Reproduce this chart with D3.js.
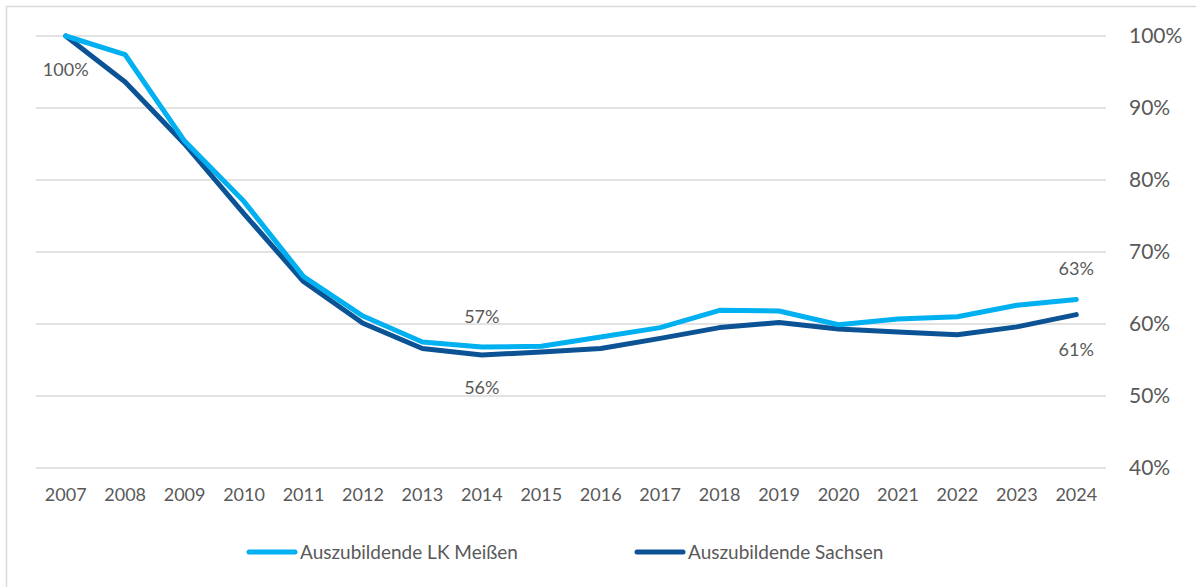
<!DOCTYPE html>
<html>
<head>
<meta charset="utf-8">
<script src="https://cdn.jsdelivr.net/npm/d3@7"></script>
<style>
  body { margin: 0; background: #fff; }
  svg text { font-family: Lato, "Open Sans", sans-serif; fill: #595959; }
</style>
</head>
<body>
<svg id="chart"></svg>
<script>
// data
var years = ["2007","2008","2009","2010","2011","2012","2013","2014","2015","2016",
             "2017","2018","2019","2020","2021","2022","2023","2024"];
var meissen = [100, 97.4, 85.4, 77.0, 66.6, 61.1, 57.5, 56.8, 56.9, 58.2,
               59.5, 61.9, 61.8, 59.9, 60.7, 61.0, 62.6, 63.4];
var sachsen = [100, 93.6, 85.0, 75.3, 65.9, 60.1, 56.6, 55.7, 56.1, 56.6,
               58.0, 59.5, 60.2, 59.3, 58.9, 58.5, 59.6, 61.3];
var yTicks = [40, 50, 60, 70, 80, 90, 100];
var seriesNames = ["Auszubildende LK Meißen", "Auszubildende Sachsen"];
var colors = ["#00b0f0", "#0b5394"];

// labelled points: [series index, year index, text, dy]
var pointLabels = [
  [1, 0, "100%", 34],
  [0, 7, "57%", -30],
  [1, 7, "56%", 33],
  [0, 17, "63%", -31],
  [1, 17, "61%", 35]
];

var W = 1196, H = 587;
var margin = {top: 36, right: 90, bottom: 119, left: 36},
    width = W - margin.left - margin.right,
    height = H - margin.top - margin.bottom;

var svg = d3.select("#chart")
    .attr("width", W)
    .attr("height", H);

// outer border
svg.append("rect")
    .attr("x", 6.5).attr("y", 6.5)
    .attr("width", W).attr("height", H - 4)
    .attr("fill", "none")
    .attr("stroke", "#d9d9d9")
    .attr("stroke-width", 1.5);

var chart = svg.append("g")
    .attr("transform", "translate(" + margin.left + "," + margin.top + ")");

var x = d3.scaleBand()
    .domain(years)
    .range([0, width]);

var y = d3.scaleLinear()
    .domain([40, 100])
    .range([height, 0]);

// gridlines
chart.selectAll(".grid")
    .data(yTicks)
  .enter().append("line")
    .attr("x1", 0).attr("x2", width)
    .attr("y1", function(d) { return y(d); })
    .attr("y2", function(d) { return y(d); })
    .attr("stroke", "#d9d9d9")
    .attr("stroke-width", 1.5);

// right axis
var yAxis = chart.append("g")
    .attr("transform", "translate(" + width + ",0)")
    .call(d3.axisRight(y).tickValues(yTicks).tickSize(0).tickPadding(23)
      .tickFormat(function(d) { return d + "%"; }));
yAxis.select(".domain").remove();
yAxis.selectAll("text").style("font-size", "21px").attr("fill", "#595959");

// bottom axis
var xAxis = chart.append("g")
    .attr("transform", "translate(0," + height + ")")
    .call(d3.axisBottom(x).tickSize(0).tickPadding(20));
xAxis.select(".domain").remove();
xAxis.selectAll("text").style("font-size", "18px").attr("fill", "#595959");

var line = d3.line()
    .x(function(d, i) { return x(years[i]) + x.bandwidth() / 2; })
    .y(function(d) { return y(d); });

// draw the Sachsen line first, Meißen on top
[sachsen, meissen].forEach(function(vals, k) {
  chart.append("path")
      .datum(vals)
      .attr("fill", "none")
      .attr("stroke", k === 0 ? colors[1] : colors[0])
      .attr("stroke-width", 5)
      .attr("stroke-linejoin", "round")
      .attr("stroke-linecap", "round")
      .attr("d", line);
});

// data labels
var allSeries = [meissen, sachsen];
chart.selectAll(".plabel")
    .data(pointLabels)
  .enter().append("text")
    .attr("class", "plabel")
    .attr("x", function(d) { return x(years[d[1]]) + x.bandwidth() / 2; })
    .attr("y", function(d) { return y(allSeries[d[0]][d[1]]) + d[3]; })
    .attr("text-anchor", "middle")
    .attr("dy", "0.35em")
    .style("font-size", "18px")
    .attr("fill", "#404040")
    .text(function(d) { return d[2]; });

// legend
var legend = svg.append("g")
    .attr("transform", "translate(0,552)");
var legendX = [249, 637];
seriesNames.forEach(function(name, i) {
  var g = legend.append("g").attr("transform", "translate(" + legendX[i] + ",0)");
  g.append("line")
      .attr("x1", 0).attr("x2", 46)
      .attr("stroke", colors[i])
      .attr("stroke-width", 5)
      .attr("stroke-linecap", "round");
  g.append("text")
      .attr("x", 51)
      .attr("dy", "0.35em")
      .style("font-size", "19px")
      .attr("fill", "#595959")
      .text(name);
});
</script>
</body>
</html>
